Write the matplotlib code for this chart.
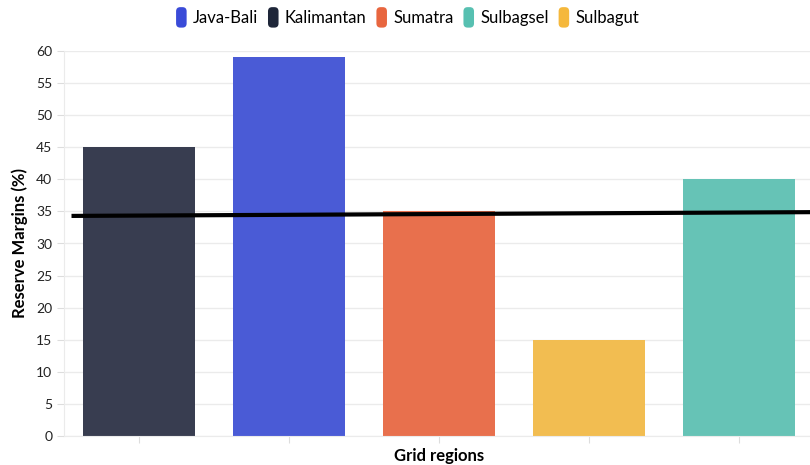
import matplotlib.pyplot as plt
from matplotlib.patches import FancyBboxPatch
from matplotlib.legend_handler import HandlerPatch

# bar data, in drawing order
regions = ["Kalimantan", "Java-Bali", "Sumatra", "Sulbagut", "Sulbagsel"]
margins = [45, 59, 35, 15, 40]
colors = ["#383d50", "#4a5bd6", "#e8704d", "#f2bd51", "#66c3b6"]

# legend order
legend_names = ["Java-Bali", "Kalimantan", "Sumatra", "Sulbagsel", "Sulbagut"]
legend_colors = ["#3a4bd8", "#1e2639", "#e8663f", "#57c0b1", "#f5b83c"]

# reference line end values
line_x = [-0.45, 4.6]
line_y = [34.3, 34.9]

plt.rcParams["font.family"] = ["Lato", "DejaVu Sans"]

fig = plt.figure(figsize=(8.1, 4.65), dpi=100)
ax = fig.add_axes([64 / 810, 29 / 465, 750 / 810, 385 / 465])

x = list(range(len(regions)))
ax.bar(x, margins, width=0.75, color=colors, zorder=2)
ax.plot(line_x, line_y, color="black", linewidth=3, zorder=3, solid_capstyle="butt")

ax.set_xlim(-0.5, 4.5)
ax.set_ylim(0, 60)
ax.set_yticks(range(0, 61, 5))
ax.set_xticks(x)
ax.set_xticklabels([])
ax.grid(axis="y", color="#ebebeb", linewidth=1, zorder=0)
ax.tick_params(axis="y", colors="#dddddd", labelcolor="#222222", labelsize=10, length=5)
ax.tick_params(axis="x", colors="#dddddd", length=5)
for side in ["top", "right"]:
    ax.spines[side].set_visible(False)
ax.spines["left"].set_color("#ebebeb")
ax.spines["bottom"].set_color("#ebebeb")

fig.text(20 / 810, 1 - 243 / 465, "Reserve Margins (%)", fontsize=12, fontweight="bold",
         rotation=90, ha="center", va="center")
fig.text(439 / 810, 1 - 456 / 465, "Grid regions", fontsize=12, fontweight="bold",
         ha="center", va="center")


class RoundHandler(HandlerPatch):
    def create_artists(self, legend, orig_handle, xdescent, ydescent, width, height, fontsize, trans):
        p = FancyBboxPatch((-xdescent + 1, -ydescent - 2), width - 2, height + 4,
                           boxstyle="round,pad=0,rounding_size=3",
                           facecolor=orig_handle.get_facecolor(), edgecolor="none", transform=trans)
        return [p]


handles = [plt.Rectangle((0, 0), 1, 1, color=c) for c in legend_colors]
fig.legend(handles, legend_names, loc="center", bbox_to_anchor=(407 / 810, 1 - 18 / 465),
           ncol=5, frameon=False, fontsize=12, handlelength=0.8, handleheight=1.0,
           handletextpad=0.3, columnspacing=0.5,
           handler_map={plt.Rectangle: RoundHandler()})

fig.savefig("out.png", dpi=100)
